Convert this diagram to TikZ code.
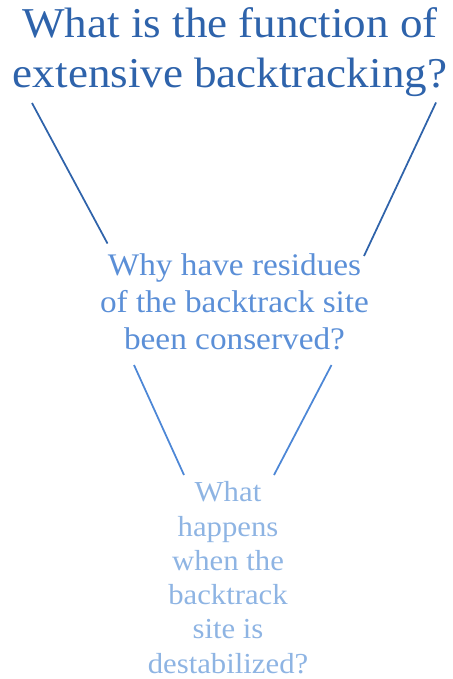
\documentclass[tikz,border=0pt]{standalone}
\usepackage{fontspec}
\setmainfont{Liberation Serif}[FakeStretch=1.06]
\definecolor{titleblue}{HTML}{2E63AB}
\definecolor{midblue}{HTML}{5B8FD7}
\definecolor{lowblue}{HTML}{8EB4E3}
\definecolor{linedark}{HTML}{2F63AA}
\definecolor{linemid}{HTML}{4D87D6}
\tikzset{
  blocktext/.style={inner sep=0pt, align=center, anchor=base},
  funnelline/.style={line width=1.75pt, line cap=butt}
}
\begin{document}
\begin{tikzpicture}[x=1pt,y=-1pt]
\useasboundingbox (0,0) rectangle (452,679);
\node[blocktext, text=titleblue, font=\fontsize{42.5}{50}\selectfont] (title) at (230,88)
  {What is the function of\\extensive backtracking?};
\node[blocktext, text=midblue, font=\fontsize{31.4}{37}\selectfont] (middle) at (234.5,349.5)
  {Why have residues\\of the backtrack site\\been conserved?};
\node[blocktext, text=lowblue, font=\fontsize{29}{34.3}\selectfont] (bottom) at (228,673.2)
  {What\\happens\\when the\\backtrack\\site is\\destabilized?};
\coordinate (tl1) at (32,103);
\coordinate (tl2) at (107.5,243.5);
\coordinate (tr1) at (436,102.5);
\coordinate (tr2) at (364,256);
\coordinate (ml1) at (134,365);
\coordinate (ml2) at (184,475);
\coordinate (mr1) at (331.5,365);
\coordinate (mr2) at (274,475);
\draw[funnelline, linedark] (tl1) -- (tl2);
\draw[funnelline, linedark] (tr1) -- (tr2);
\draw[funnelline, linemid] (ml1) -- (ml2);
\draw[funnelline, linemid] (mr1) -- (mr2);
\end{tikzpicture}
\end{document}
